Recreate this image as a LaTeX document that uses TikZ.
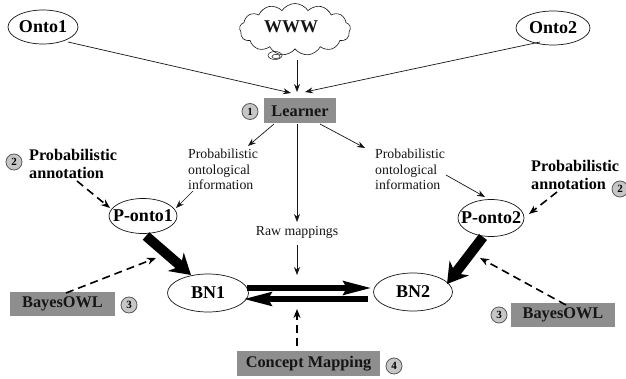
\documentclass[tikz,border=0pt]{standalone}
\usepackage{fontspec}
\setmainfont{Liberation Serif}
\usetikzlibrary{shapes.geometric,shapes.symbols,arrows.meta}
\definecolor{boxgray}{HTML}{8E8E8E}
\definecolor{numgray}{HTML}{C6C6C6}
\definecolor{inkc}{HTML}{151515}
\newcommand{\ztext}[1]{\makebox[0pt][c]{#1}}
\tikzset{
  ell/.style={ellipse,draw=inkc,line width=0.7pt,fill=white,inner sep=0pt,text=black,font=\fontsize{18}{18}\selectfont\bfseries},
  graybox/.style={rectangle,fill=boxgray,inner sep=0pt,text=inkc,font=\fontsize{16.3}{16.3}\selectfont\bfseries},
  numc/.style={circle,draw=black!65,fill=numgray,line width=0.8pt,minimum size=16pt,inner sep=0pt,font=\fontsize{11}{11}\selectfont\bfseries},
  thin arrow/.style={draw=inkc,line width=0.7pt,-{Stealth[length=8pt,width=6pt]}},
  dash arrow/.style={draw=black,line width=1.6pt,dash pattern=on 8pt off 5pt,-{Stealth[length=9pt,width=7pt]}},
  fat arrow/.style={draw=black,line width=10pt,-{Stealth[length=20pt,width=24pt]}},
  bar arrow/.style={draw=black,line width=6pt,-{Stealth[length=28pt,width=13pt,inset=3pt]}},
  info/.style={align=left,inner sep=0pt,text=inkc,font=\fontsize{13.8}{15.6}\selectfont},
  annot/.style={align=left,inner sep=0pt,text=black,font=\fontsize{16.2}{18.3}\selectfont\bfseries}
}
\begin{document}
\begin{tikzpicture}[x=1pt,y=-1pt]
\useasboundingbox (0,0) rectangle (626,379);
% ontologies
\node[ell,minimum width=70pt,minimum height=34pt] (onto1) at (43,27) {\ztext{Onto1}};
\node[ell,minimum width=74pt,minimum height=34pt] (onto2) at (553,28) {\ztext{Onto2}};
\node[cloud,draw=inkc,line width=0.6pt,cloud puffs=13,cloud puff arc=115,aspect=2.2,minimum width=111pt,minimum height=52pt,inner sep=0pt] (www) at (295,29.5) {};
\node[inner sep=0pt,font=\fontsize{18}{18}\selectfont\bfseries,text=inkc] (wwwtext) at (291,26.5) {WWW};
\draw[draw=inkc,line width=0.5pt] (275,55.5) ellipse (7 and 4);
\draw[draw=inkc,line width=0.5pt] (276,56.5) ellipse (4 and 2.2);
% learner
\node[graybox,minimum width=72pt,minimum height=25pt] (learner) at (300,111) {Learner};
\node[numc] (n1) at (250,111.5) {1};
% info texts
\node[info,anchor=north west] (infoL) at (188,149) {Probabilistic\\ontological\\information};
\node[info,anchor=north west] (infoR) at (375,149) {Probabilistic\\ontological\\information};
\node[inner sep=0pt,text=inkc,font=\fontsize{13.8}{15.6}\selectfont] (raw) at (297,232) {Raw mappings};
% P-ontos and BNs
\node[ell,minimum width=68pt,minimum height=35pt] (ponto1) at (143,216) {\ztext{P-onto1}};
\node[ell,minimum width=66pt,minimum height=37pt] (ponto2) at (491,218) {\ztext{P-onto2}};
\node[ell,minimum width=81pt,minimum height=38pt] (bn1) at (208,293) {\ztext{BN1}};
\node[ell,minimum width=79pt,minimum height=38pt] (bn2) at (413,292) {\ztext{BN2}};
% annotations
\node[annot,anchor=north west] (annL) at (29,149) {Probabilistic\\annotation};
\node[numc] (n2L) at (14,162) {2};
\node[annot,anchor=north west] (annR) at (531,160) {Probabilistic\\annotation};
\node[numc] (n2R) at (620,189) {2};
% boxes
\node[graybox,minimum width=105pt,minimum height=24pt] (boL) at (62.5,304) {BayesOWL};
\node[numc] (n3L) at (129,305) {3};
\node[graybox,minimum width=104pt,minimum height=24pt] (boR) at (563,315) {BayesOWL};
\node[numc] (n3R) at (499,315) {3};
\node[graybox,minimum width=143pt,minimum height=25pt] (cm) at (308.5,363.5) {Concept Mapping};
\node[numc] (n4) at (394,366) {4};
% free ends
\coordinate (a1s) at (68,42);
\coordinate (a1e) at (291,93);
\coordinate (a2s) at (540,42);
\coordinate (a2e) at (305,92);
\coordinate (a3s) at (297,60);
\coordinate (a3e) at (297,92);
\coordinate (l1s) at (274,124);
\coordinate (l1e) at (248,146);
\coordinate (l2s) at (320,124);
\coordinate (l2e) at (365,148);
\coordinate (l3s) at (297,124);
\coordinate (l3e) at (297,222);
\coordinate (r1s) at (297,245);
\coordinate (r1e) at (297,275);
\coordinate (i1s) at (193,191);
\coordinate (i1e) at (176,208);
\coordinate (i2s) at (446,175);
\coordinate (i2e) at (485,197);
\coordinate (d1s) at (77,181);
\coordinate (d1e) at (110,208);
\coordinate (d2s) at (557,192);
\coordinate (d2e) at (529,214);
\coordinate (d3s) at (66,293);
\coordinate (d3e) at (156,258);
\coordinate (d4s) at (566,305);
\coordinate (d4e) at (480,258);
\coordinate (d5s) at (297,346);
\coordinate (d5e) at (297,309);
\coordinate (f1s) at (146,236);
\coordinate (f1e) at (191,275);
\coordinate (f2s) at (483,237);
\coordinate (f2e) at (447,284);
\coordinate (b1s) at (247,288);
\coordinate (b1e) at (372,288);
\coordinate (b2s) at (368,299);
\coordinate (b2e) at (243,299);
% thin connectors
\draw[thin arrow] (a1s) -- (a1e);
\draw[thin arrow] (a2s) -- (a2e);
\draw[thin arrow] (a3s) -- (a3e);
\draw[thin arrow] (l1s) -- (l1e);
\draw[thin arrow] (l2s) -- (l2e);
\draw[thin arrow] (l3s) -- (l3e);
\draw[thin arrow] (r1s) -- (r1e);
\draw[thin arrow] (i1s) -- (i1e);
\draw[thin arrow] (i2s) -- (i2e);
% dashed
\draw[dash arrow] (d1s) -- (d1e);
\draw[dash arrow] (d2s) -- (d2e);
\draw[dash arrow] (d3s) -- (d3e);
\draw[dash arrow] (d4s) -- (d4e);
\draw[dash arrow] (d5s) -- (d5e);
% heavy
\draw[fat arrow] (f1s) -- (f1e);
\draw[fat arrow] (f2s) -- (f2e);
\draw[bar arrow] (b1s) -- (b1e);
\draw[bar arrow] (b2s) -- (b2e);
\end{tikzpicture}
\end{document}
